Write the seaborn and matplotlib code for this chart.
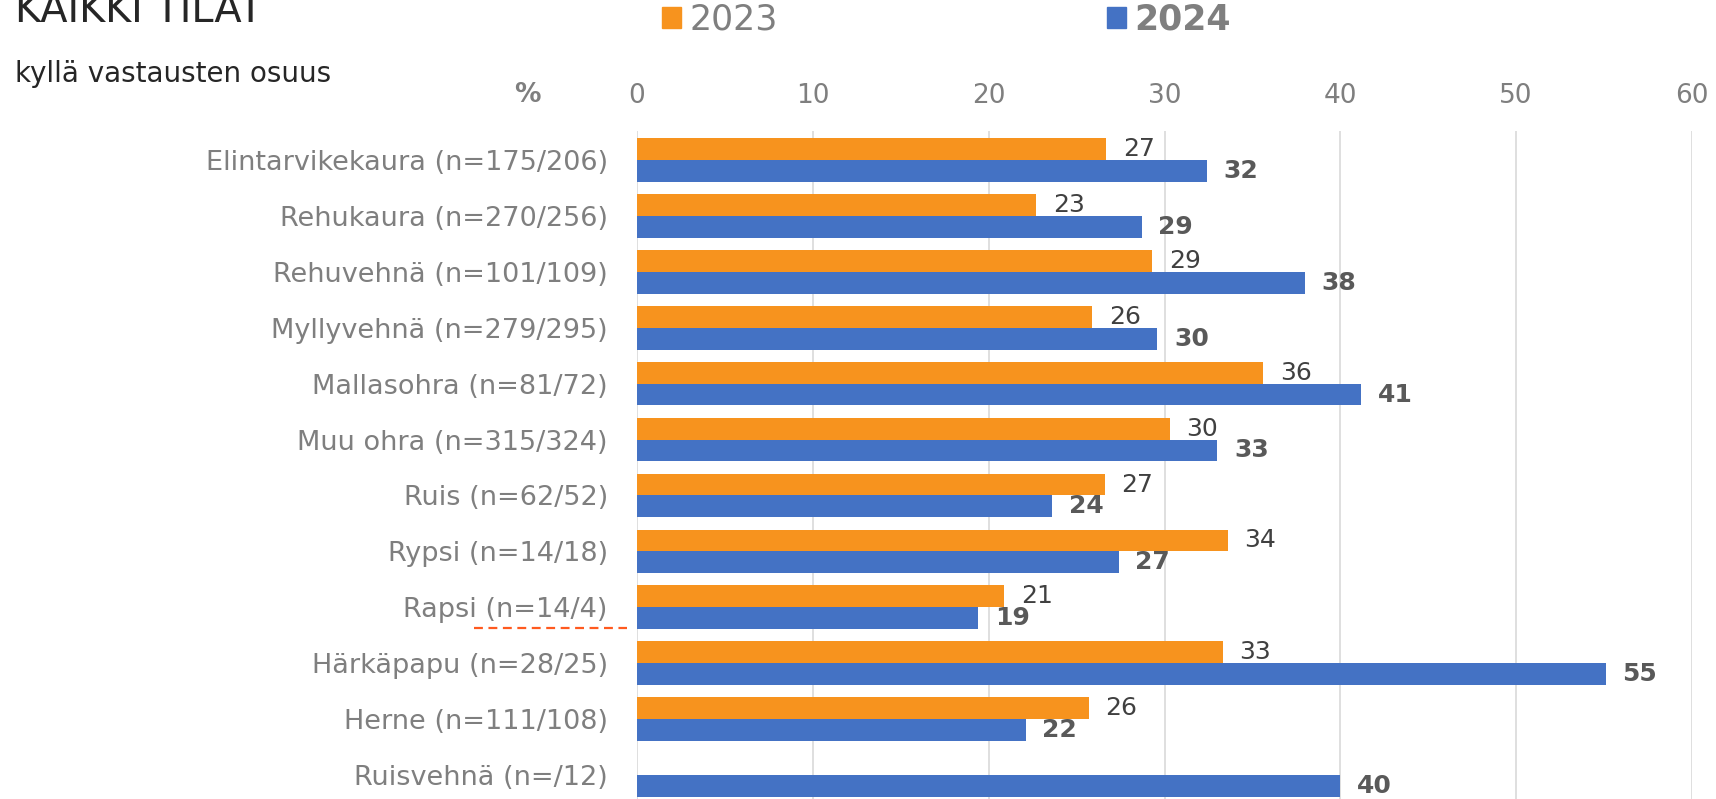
import pandas as pd
import seaborn as sns
import matplotlib.pyplot as plt
from matplotlib.patches import Patch
from matplotlib.lines import Line2D

# data (share of "yes" answers, %)
crops = ['Elintarvikekaura (n=175/206)', 'Rehukaura (n=270/256)', 'Rehuvehnä (n=101/109)',
         'Myllyvehnä (n=279/295)', 'Mallasohra (n=81/72)', 'Muu ohra (n=315/324)',
         'Ruis (n=62/52)', 'Rypsi (n=14/18)', 'Rapsi (n=14/4)', 'Härkäpapu (n=28/25)',
         'Herne (n=111/108)', 'Ruisvehnä (n=/12)']
years = ['2023', '2024']
values_2023 = [26.7, 22.7, 29.3, 25.9, 35.6, 30.3, 26.6, 33.6, 20.9, 33.3, 25.7, None]
values_2024 = [32.4, 28.7, 38.0, 29.6, 41.2, 33.0, 23.6, 27.4, 19.4, 55.1, 22.1, 40.0]
xticks = [0, 10, 20, 30, 40, 50, 60]

orange = '#F7931E'
blue = '#4472C4'
grey = '#7f7f7f'

df = pd.DataFrame({
    'crop': crops * 2,
    'year': ['2023'] * len(crops) + ['2024'] * len(crops),
    'value': values_2023 + values_2024,
}).dropna()

sns.set_style('white')
plt.rcParams['font.family'] = ['DejaVu Sans']

W, H = 1716, 799
fig = plt.figure(figsize=(W / 100, H / 100), dpi=100)
ax = fig.add_axes([637 / W, 0, 1055 / W, 668 / H])

sns.barplot(data=df, x='value', y='crop', hue='year', order=crops, hue_order=years,
            orient='h', palette=[orange, blue], width=0.78, gap=0, saturation=1,
            errorbar=None, legend=False, linewidth=0, ax=ax)

ax.set_xlim(0, 60)
ax.set_ylim(11.43, -0.52)
ax.set_xticks(xticks)
ax.xaxis.tick_top()
ax.tick_params(axis='x', length=0, pad=16, labelsize=19, labelcolor=grey)
ax.tick_params(axis='y', length=0, pad=21, labelsize=19.5, labelcolor=grey)
ax.set_xlabel('')
ax.set_ylabel('')
ax.grid(axis='x', color='#d9d9d9', linewidth=1.2)
ax.set_axisbelow(True)
for s in ax.spines.values():
    s.set_visible(False)

# value labels
ax.bar_label(ax.containers[0], fmt='%.0f', padding=12, fontsize=18, color='#404040')
ax.bar_label(ax.containers[1], fmt='%.0f', padding=12, fontsize=18, color='#595959',
             fontweight='bold')

# titles
fig.text(15 / W, 1 - 22 / H, 'KAIKKI TILAT', fontsize=28.7, color='#262626', va='baseline')
fig.text(15 / W, 1 - 82 / H, 'kyllä vastausten osuus', fontsize=20, color='#262626',
         va='baseline')
fig.text(527 / W, 1 - 95 / H, '%', fontsize=19, color=grey, fontweight='bold',
         ha='center', va='center')

# legend
handles = [Patch(color=orange), Patch(color=blue)]
leg = fig.legend(handles, years, loc='upper left', bbox_to_anchor=(662 / W, 1 - 3 / H),
                 ncol=2, frameon=False, fontsize=25, handlelength=0.55, handleheight=0.55,
                 handletextpad=0.23, columnspacing=9.5, borderpad=0, borderaxespad=0,
                 labelcolor=grey)
leg.get_texts()[1].set_fontweight('bold')

# spell-check underline under the Rapsi label
fig.add_artist(Line2D([474 / W, 627 / W], [1 - 628 / H, 1 - 628 / H], transform=fig.transFigure,
                      color='#FF5A1F', linewidth=1.6, linestyle=(0, (4, 2.5))))

fig.savefig('out.png', dpi=100)
